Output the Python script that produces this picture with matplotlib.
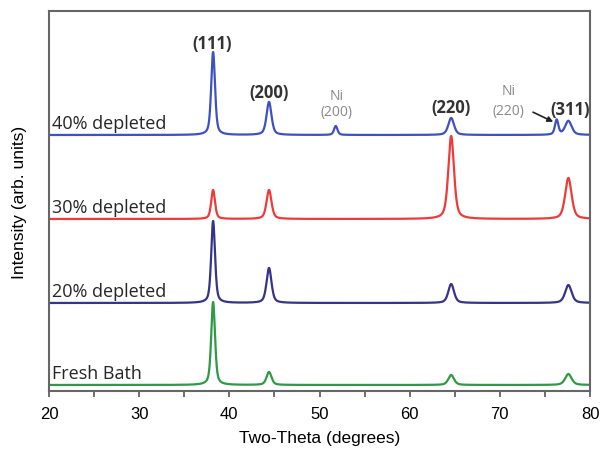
import matplotlib.pyplot as plt
import numpy as np
from matplotlib.ticker import MultipleLocator

# Peak positions (2-theta, degrees) and full widths
peak_names = ['(111)', '(200)', '(220)', '(311)', 'Ni(200)', 'Ni(220)']
peak_pos = [38.2, 44.4, 64.6, 77.6, 51.8, 76.3]
peak_fwhm = [0.50, 0.65, 0.75, 0.85, 0.45, 0.45]

# Peak heights for each sample (arb. units)
samples = ['Fresh Bath', '20% depleted', '30% depleted', '40% depleted']
fresh_heights = [83, 13, 10, 11, 0, 0]
dep20_heights = [82, 35, 19, 18, 0, 0]
dep30_heights = [29, 29, 83, 41, 0, 0]
dep40_heights = [83, 33, 17, 14, 9, 15]
baselines = [6, 88, 172, 256]
colors = ['#2e9a45', '#35338a', '#f03a3a', '#3f51c0']


def pattern(two_theta, heights, eta=0.5):
    # pseudo-Voigt peaks
    y = np.zeros_like(two_theta)
    for pos, w, h in zip(peak_pos, peak_fwhm, heights):
        u = (two_theta - pos) / (w / 2)
        lor = 1 / (1 + u ** 2)
        gau = np.exp(-np.log(2) * u ** 2)
        y += h * (eta * lor + (1 - eta) * gau)
    return y


fig = plt.figure(figsize=(6.02, 4.56), dpi=100)
ax = fig.add_axes([0.0814, 0.1404, 0.8987, 0.8333])

tt = np.linspace(20, 80, 3000)
all_heights = [fresh_heights, dep20_heights, dep30_heights, dep40_heights]
for name, h, base, c in zip(samples, all_heights, baselines, colors):
    ax.plot(tt, base + pattern(tt, h), color=c, lw=1.6)
    ax.text(20.35, base + 3, name, fontsize=13, family='Open Sans',
            color='#262626', ha='left', va='bottom')

ax.set_xlim(20, 80)
ax.set_ylim(0, 380)
ax.set_yticks([])
ax.xaxis.set_major_locator(MultipleLocator(10))
ax.xaxis.set_minor_locator(MultipleLocator(5))
ax.tick_params(axis='x', which='both', direction='out', length=4, width=1.2,
               color='#555555', labelsize=12, pad=7)
for lab in ax.get_xticklabels():
    lab.set_family('Liberation Sans')
for s in ax.spines.values():
    s.set_color('#666666')
    s.set_linewidth(1.5)

ax.set_xlabel('Two-Theta (degrees)', fontsize=12.5, family='Liberation Sans',
              labelpad=6)
ax.set_ylabel('Intensity (arb. units)', fontsize=12.5, family='Liberation Sans',
              labelpad=16)

# Reflection labels above the 40% depleted pattern
bold = dict(fontsize=12, family='Open Sans', weight='bold', color='#333333',
            ha='center', va='center')
grey = dict(fontsize=10, family='Open Sans', color='#888888',
            ha='center', va='center')
ax.text(38.1, 348, '(111)', **bold)
ax.text(44.4, 299, '(200)', **bold)
ax.text(64.6, 284, '(220)', **bold)
ax.text(77.8, 282, '(311)', **bold)
ax.text(51.9, 295, 'Ni', **grey)
ax.text(51.9, 279, '(200)', **grey)
ax.text(71.0, 300, 'Ni', **grey)
ax.text(71.0, 280, '(220)', **grey)
ax.annotate('', xy=(76.2, 268), xytext=(73.4, 280),
            arrowprops=dict(arrowstyle='-|>', color='#222222', lw=1.2,
                            mutation_scale=8))

fig.savefig('out.png', dpi=100)
